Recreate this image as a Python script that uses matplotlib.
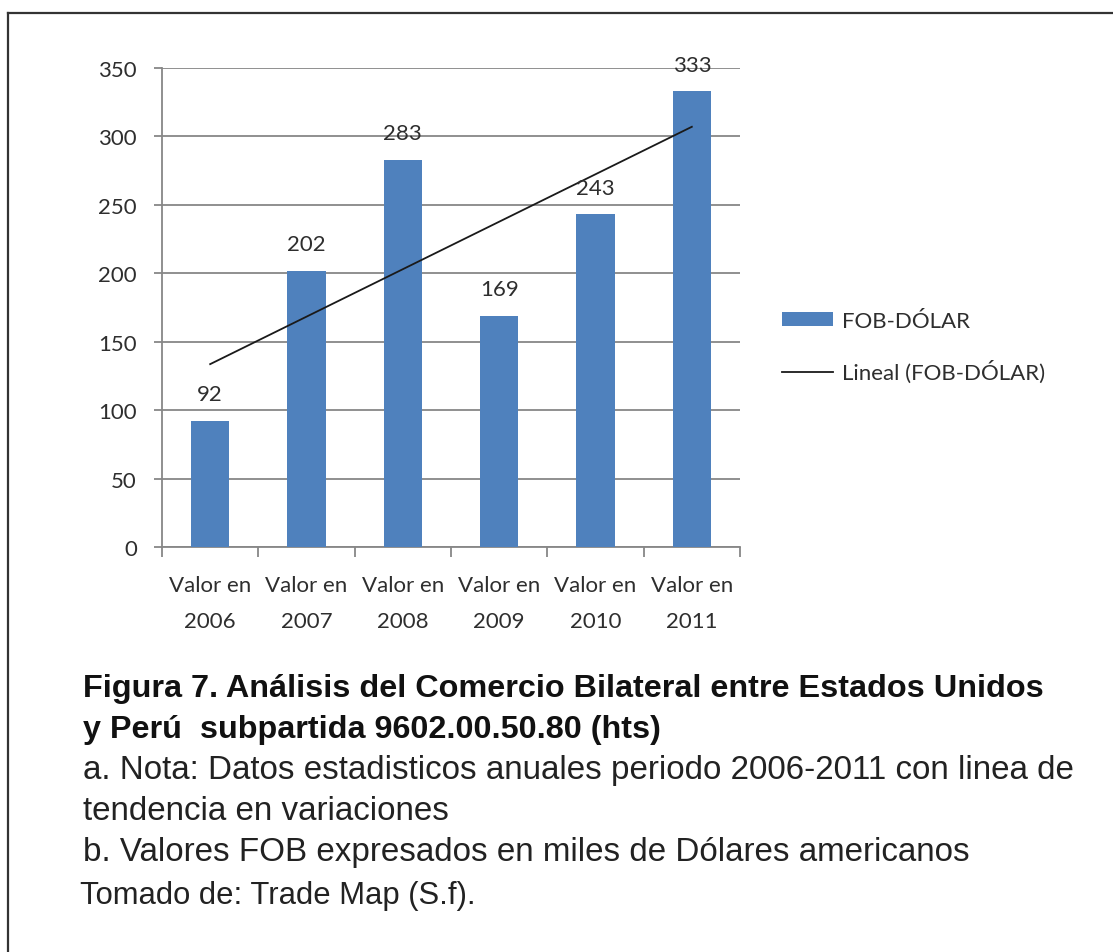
import numpy as np
import matplotlib.pyplot as plt
from matplotlib.lines import Line2D

# data
categories = ['Valor en\n2006', 'Valor en\n2007', 'Valor en\n2008',
              'Valor en\n2009', 'Valor en\n2010', 'Valor en\n2011']
fob_dolar = [92, 202, 283, 169, 243, 333]
y_ticks = [0, 50, 100, 150, 200, 250, 300, 350]

caption_bold = ['Figura 7. Análisis del Comercio Bilateral entre Estados Unidos',
                'y Perú  subpartida 9602.00.50.80 (hts)']
caption_notes = ['a. Nota: Datos estadisticos anuales periodo 2006-2011 con linea de',
                 'tendencia en variaciones',
                 'b. Valores FOB expresados en miles de Dólares americanos']
source = 'Tomado de: Trade Map (S.f).'

bar_color = '#4F81BD'
grid_color = '#878787'
text_color = '#2e2e2e'
chart_font = ['Lato', 'DejaVu Sans']
cap_font = ['Liberation Sans', 'DejaVu Sans']

fig = plt.figure(figsize=(11.13, 9.53), dpi=100)
ax = fig.add_axes([162 / 1113, 1 - 548 / 953, 578 / 1113, 479 / 953])

x = np.arange(len(fob_dolar))
bars = ax.bar(x, fob_dolar, width=0.4, color=bar_color, zorder=3)

# linear trend line over the bars
coef = np.polyfit(x, fob_dolar, 1)
trend, = ax.plot(x, np.polyval(coef, x), color='#1a1a1a', linewidth=1.3, zorder=4)

for xi, v in zip(x, fob_dolar):
    ax.annotate(str(v), (xi, v), xytext=(0, 12), textcoords='offset points',
                ha='center', va='bottom', fontsize=16, color=text_color,
                family=chart_font, zorder=5)

ax.set_xlim(-0.5, len(fob_dolar) - 0.5)
ax.set_ylim(0, 350)
ax.set_yticks(y_ticks)
ax.set_yticklabels([str(t) for t in y_ticks], family=chart_font, fontsize=16, color=text_color)
ax.yaxis.grid(True, color=grid_color, linewidth=1.3, zorder=0)
ax.tick_params(axis='y', length=6, width=1.3, color=grid_color, pad=12)

# category boundary ticks, labels centered under the bars
ax.set_xticks(np.arange(len(fob_dolar) + 1) - 0.5)
ax.set_xticklabels([])
ax.set_xticks(x, minor=True)
ax.set_xticklabels(categories, minor=True, family=chart_font, fontsize=16,
                   color=text_color, linespacing=2.0)
ax.tick_params(axis='x', which='major', length=7, width=1.3, color=grid_color)
ax.tick_params(axis='x', which='minor', length=0, pad=20)

for s in ['top', 'right']:
    ax.spines[s].set_visible(False)
for s in ['left', 'bottom']:
    ax.spines[s].set_color(grid_color)
    ax.spines[s].set_linewidth(1.3)

leg = fig.legend([bars, trend], ['FOB-DÓLAR', 'Lineal (FOB-DÓLAR)'],
                 loc='upper left', bbox_to_anchor=(782 / 1113, 1 - 312 / 953),
                 frameon=False, prop={'family': chart_font, 'size': 16},
                 handlelength=2.3, handleheight=0.6, handletextpad=0.4,
                 labelspacing=1.3, borderaxespad=0, borderpad=0)
for t in leg.get_texts():
    t.set_color(text_color)

# caption below the chart
y0 = 1 - 697 / 953
step = 41 / 953
for i, line in enumerate(caption_bold):
    fig.text(83 / 1113, y0 - i * step, line, family=cap_font, fontsize=23.3,
             fontweight='bold', color='#111111', va='baseline')
for i, line in enumerate(caption_notes):
    fig.text(83 / 1113, y0 - (i + 2) * step, line, family=cap_font, fontsize=23.9,
             color='#222222', va='baseline')
fig.text(80 / 1113, y0 - 5 * step - 2 / 953, source, family=cap_font, fontsize=22.3,
         color='#222222', va='baseline')

# outer frame (left and top edges visible)
fig.add_artist(Line2D([8 / 1113, 8 / 1113], [0, 1 - 14 / 953], color='#333333', linewidth=1.6))
fig.add_artist(Line2D([8 / 1113, 1], [1 - 14 / 953, 1 - 14 / 953], color='#333333', linewidth=1.6))

fig.savefig('out.png', dpi=100)
